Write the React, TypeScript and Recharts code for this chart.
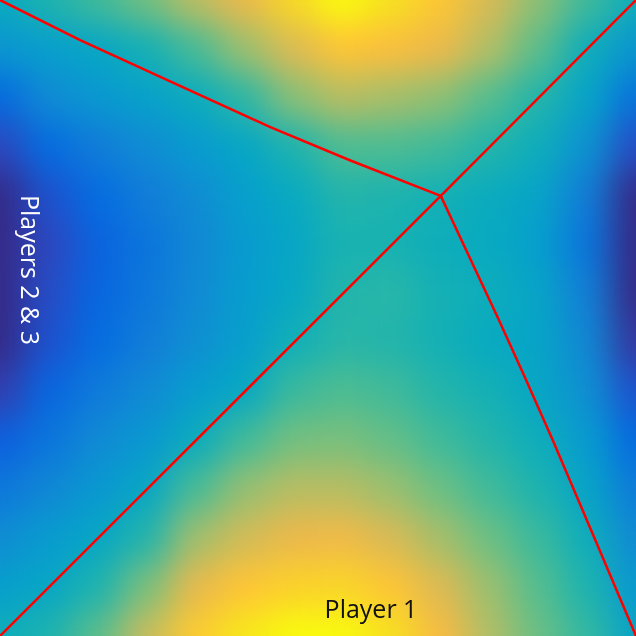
import { ScatterChart, Scatter, XAxis, YAxis } from "recharts";

// surface values sampled on a 14 x 14 grid (top row first, left column first)
const row00 = [0.40, 0.46, 0.52, 0.59, 0.71, 0.80, 0.92, 1.00, 0.94, 0.87, 0.76, 0.63, 0.52, 0.42];
const row01 = [0.31, 0.35, 0.38, 0.44, 0.53, 0.65, 0.77, 0.86, 0.84, 0.80, 0.69, 0.56, 0.42, 0.31];
const row02 = [0.15, 0.27, 0.32, 0.36, 0.41, 0.49, 0.62, 0.70, 0.67, 0.63, 0.55, 0.47, 0.37, 0.18];
const row03 = [0.07, 0.16, 0.22, 0.28, 0.33, 0.38, 0.46, 0.54, 0.54, 0.52, 0.47, 0.42, 0.30, 0.08];
const row04 = [0.00, 0.09, 0.16, 0.22, 0.28, 0.35, 0.40, 0.47, 0.46, 0.44, 0.41, 0.37, 0.22, 0.00];
const row05 = [0.00, 0.07, 0.13, 0.19, 0.26, 0.33, 0.38, 0.45, 0.45, 0.42, 0.40, 0.35, 0.19, 0.00];
const row06 = [0.00, 0.08, 0.14, 0.20, 0.27, 0.34, 0.39, 0.47, 0.48, 0.44, 0.42, 0.37, 0.23, 0.00];
const row07 = [0.00, 0.09, 0.16, 0.22, 0.29, 0.35, 0.43, 0.48, 0.47, 0.44, 0.40, 0.37, 0.26, 0.03];
const row08 = [0.05, 0.14, 0.21, 0.27, 0.34, 0.39, 0.51, 0.54, 0.52, 0.47, 0.44, 0.38, 0.29, 0.09];
const row09 = [0.12, 0.19, 0.27, 0.32, 0.41, 0.52, 0.59, 0.60, 0.57, 0.52, 0.47, 0.42, 0.33, 0.15];
const row10 = [0.20, 0.26, 0.32, 0.38, 0.53, 0.64, 0.70, 0.70, 0.65, 0.58, 0.52, 0.46, 0.37, 0.21];
const row11 = [0.28, 0.33, 0.38, 0.47, 0.66, 0.75, 0.80, 0.81, 0.76, 0.67, 0.58, 0.51, 0.42, 0.27];
const row12 = [0.35, 0.38, 0.46, 0.60, 0.79, 0.86, 0.90, 0.91, 0.86, 0.77, 0.65, 0.55, 0.46, 0.32];
const row13 = [0.42, 0.46, 0.56, 0.73, 0.88, 0.96, 1.00, 1.00, 0.94, 0.83, 0.69, 0.58, 0.50, 0.37];

const rows = [row00, row01, row02, row03, row04, row05, row06, row07, row08, row09, row10, row11, row12, row13];

// boundary curves, in share of the square (x right, y down)
const boundaryTopLeft = [
  { x: 0, y: 0 }, { x: 0.126, y: 0.063 }, { x: 0.283, y: 0.135 },
  { x: 0.425, y: 0.2 }, { x: 0.55, y: 0.252 }, { x: 0.693, y: 0.308 },
];
const boundaryTopRight = [{ x: 0.693, y: 0.308 }, { x: 1, y: 0 }];
const boundaryBottomLeft = [{ x: 0.693, y: 0.308 }, { x: 0, y: 1 }];
const boundaryBottomRight = [
  { x: 0.693, y: 0.308 }, { x: 0.783, y: 0.5 }, { x: 0.827, y: 0.597 },
  { x: 0.869, y: 0.692 }, { x: 0.936, y: 0.849 }, { x: 1, y: 1 },
];

// parula colour stops
const parula: [number, number, number, number][] = [
  [0.0, 53, 42, 135], [0.063, 50, 67, 186], [0.111, 15, 92, 221], [0.159, 4, 109, 224],
  [0.222, 18, 125, 216], [0.286, 16, 142, 210], [0.333, 7, 156, 207], [0.397, 7, 169, 194],
  [0.444, 21, 177, 180], [0.492, 46, 183, 164], [0.54, 77, 188, 146], [0.587, 113, 191, 128],
  [0.635, 146, 191, 115], [0.683, 174, 190, 103], [0.73, 200, 188, 93], [0.778, 225, 185, 82],
  [0.825, 248, 186, 68], [0.857, 255, 195, 55], [0.905, 250, 211, 42], [0.952, 245, 228, 29],
  [1.0, 249, 251, 14],
];

const colorOf = (v: number) => {
  const t = Math.max(0, Math.min(1, v));
  for (let i = 1; i < parula.length; i++) {
    if (t <= parula[i][0]) {
      const a = parula[i - 1];
      const b = parula[i];
      const f = (t - a[0]) / (b[0] - a[0]);
      const c = [1, 2, 3].map((k) => Math.round(a[k] + (b[k] - a[k]) * f));
      return `rgb(${c[0]},${c[1]},${c[2]})`;
    }
  }
  return "rgb(249,251,14)";
};

const SIZE = 636;
const steps = rows.length - 1;
const cell = SIZE / steps;

const cells = rows.flatMap((r, j) => r.map((v, i) => ({ x: i / steps, y: j / steps, v })));

const HeatCell = (props: any) => {
  const { cx, cy, payload } = props;
  return (
    <rect
      x={cx - cell / 2 - 0.5}
      y={cy - cell / 2 - 0.5}
      width={cell + 1}
      height={cell + 1}
      fill={colorOf(payload.v)}
    />
  );
};

const NoDot = () => <g />;

const lineStyle = { stroke: "#ff0000", strokeWidth: 2.5 };

export default function App() {
  return (
    <div style={{ position: "fixed", left: 0, top: 0, width: SIZE, height: SIZE, overflow: "hidden" }}>
      <style>{`.heat { filter: url(#smooth); }`}</style>
      <ScatterChart width={SIZE} height={SIZE} margin={{ top: 0, right: 0, bottom: 0, left: 0 }}>
        <defs>
          <filter id="smooth" x="0" y="0" width="1" height="1" colorInterpolationFilters="sRGB">
            <feGaussianBlur stdDeviation="17" />
            <feComponentTransfer>
              <feFuncA type="table" tableValues="1 1" />
            </feComponentTransfer>
          </filter>
        </defs>
        <XAxis type="number" dataKey="x" domain={[0, 1]} hide />
        <YAxis type="number" dataKey="y" domain={[0, 1]} reversed hide />
        <Scatter className="heat" data={cells} shape={HeatCell} isAnimationActive={false} />
        <Scatter data={boundaryTopLeft} line={lineStyle} shape={NoDot} isAnimationActive={false} />
        <Scatter data={boundaryTopRight} line={lineStyle} shape={NoDot} isAnimationActive={false} />
        <Scatter data={boundaryBottomLeft} line={lineStyle} shape={NoDot} isAnimationActive={false} />
        <Scatter data={boundaryBottomRight} line={lineStyle} shape={NoDot} isAnimationActive={false} />
      </ScatterChart>
      <svg
        width={SIZE}
        height={SIZE}
        style={{ position: "absolute", left: 0, top: 0, pointerEvents: "none" }}
        fontFamily="'Open Sans', sans-serif"
        fontSize={25}
      >
        <text x={371} y={618} textAnchor="middle" fill="#111">
          Player 1
        </text>
        <text x={21} y={270} textAnchor="middle" fill="#fff" transform="rotate(90, 21, 270)">
          Players 2 &amp; 3
        </text>
      </svg>
    </div>
  );
}
